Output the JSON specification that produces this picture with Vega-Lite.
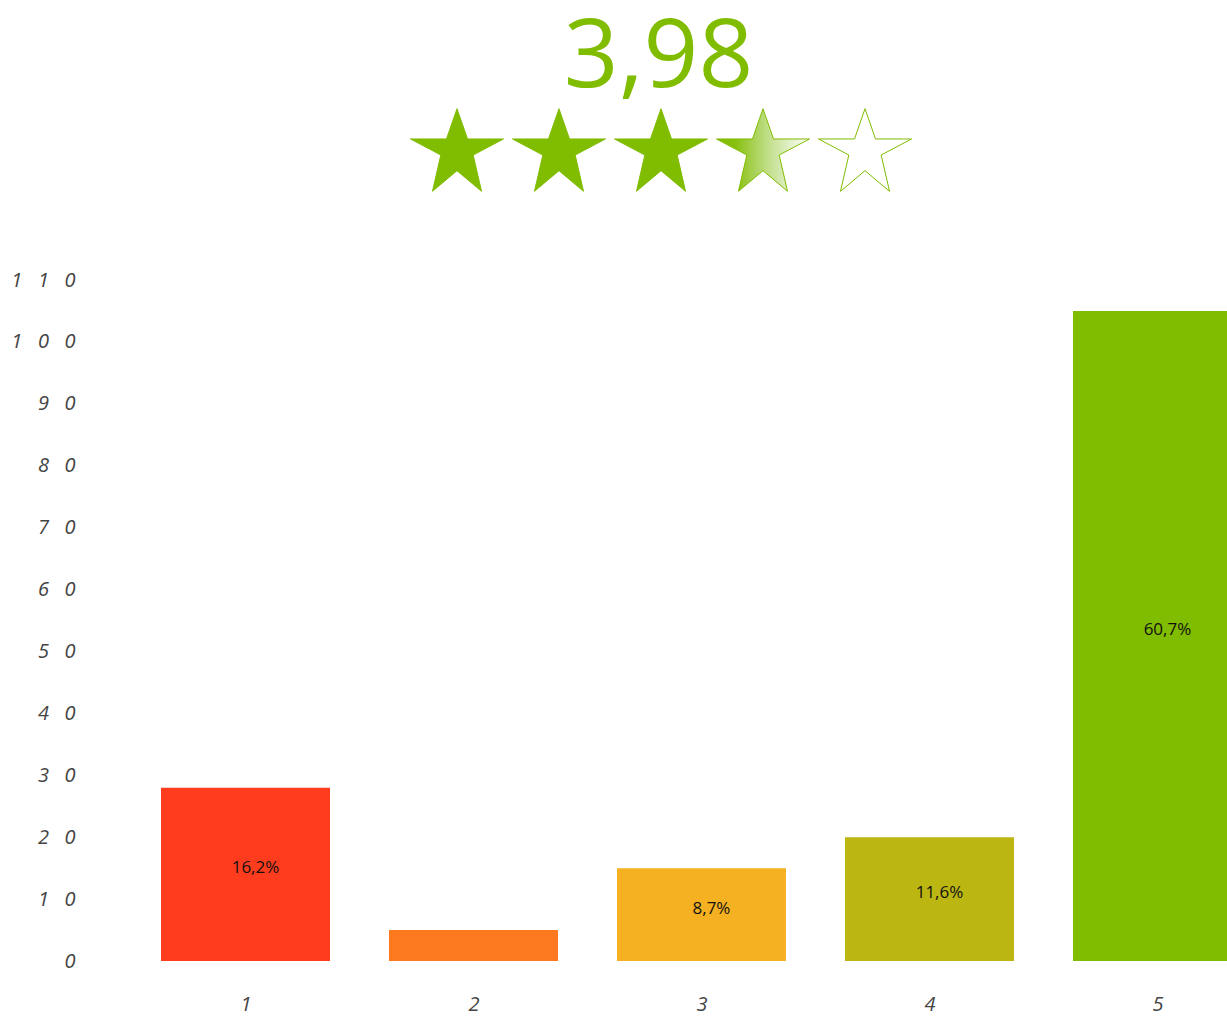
{
  "$schema": "https://vega.github.io/schema/vega-lite/v6.json",
  "autosize": "none",
  "width": 1137,
  "height": 681,
  "padding": {"left": 90, "top": 280, "right": 0, "bottom": 55},
  "background": "white",
  "config": {
    "view": {"stroke": null},
    "locale": {"number": {"decimal": ",", "thousands": ".", "grouping": [3], "currency": ["", " €"]}}
  },
  "title": {
    "text": "3,98",
    "font": "Open Sans",
    "fontSize": 96,
    "fontWeight": "normal",
    "color": "#80BC00",
    "anchor": "middle",
    "frame": "group",
    "baseline": "alphabetic",
    "offset": -76
  },
  "datasets": {
    "ratings": [
      {"rating": 1, "count": 28, "pct": 0.162},
      {"rating": 2, "count": 5, "pct": 0.029},
      {"rating": 3, "count": 15, "pct": 0.087},
      {"rating": 4, "count": 20, "pct": 0.116},
      {"rating": 5, "count": 105, "pct": 0.607}
    ],
    "stars": [
      {"star": 1, "state": "full", "row": "stars"},
      {"star": 2, "state": "full", "row": "stars"},
      {"star": 3, "state": "full", "row": "stars"},
      {"star": 4, "state": "partial", "row": "stars"},
      {"star": 5, "state": "empty", "row": "stars"}
    ]
  },
  "layer": [
    {
      "data": {"name": "ratings"},
      "mark": {"type": "bar", "width": 169, "clip": true},
      "encoding": {
        "x": {
          "field": "rating", "type": "quantitative",
          "scale": {"domain": [0.318, 5.305], "nice": false, "zero": false, "padding": 0},
          "axis": {
            "title": null, "values": [1, 2, 3, 4, 5], "grid": false, "domain": false, "ticks": false,
            "labelFont": "Open Sans", "labelFontStyle": "italic", "labelFontSize": 20, "labelColor": "#444444",
            "labelPadding": 33, "format": "d"
          }
        },
        "y": {
          "field": "count", "type": "quantitative",
          "scale": {"domain": [0, 110], "nice": false, "padding": 0},
          "axis": {
            "title": null, "values": [0, 10, 20, 30, 40, 50, 60, 70, 80, 90, 100, 110], "grid": false, "domain": false, "ticks": false,
            "labelFont": "Open Sans", "labelFontStyle": "italic", "labelFontSize": 20, "labelColor": "#444444",
            "labelPadding": 15,
            "labelExpr": "join(split(datum.label, ''), '\u00a0\u00a0\u00a0')"
          }
        },
        "color": {
          "field": "rating", "type": "ordinal",
          "scale": {"domain": [1, 2, 3, 4, 5], "range": ["#FF3C1E", "#FC7920", "#F5B122", "#BCB612", "#80BC00"]},
          "legend": null
        }
      }
    },
    {
      "data": {"name": "ratings"},
      "transform": [{"filter": "datum.pct >= 0.05"}],
      "mark": {"type": "text", "font": "Open Sans", "fontSize": 17, "color": "#111111", "baseline": "middle", "align": "center", "dx": 10, "dy": -6},
      "encoding": {
        "x": {"field": "rating", "type": "quantitative", "scale": {"domain": [0.318, 5.305], "nice": false, "zero": false, "padding": 0}, "axis": null},
        "y": {"field": "count", "type": "quantitative", "scale": {"domain": [0, 220], "nice": false, "padding": 0}, "axis": null},
        "text": {"field": "pct", "type": "quantitative", "format": ".1%"}
      }
    },
    {
      "data": {"name": "stars"},
      "encoding": {
        "x": {"field": "star", "type": "quantitative", "scale": {"domain": [-2.598, 8.549], "nice": false, "zero": false, "padding": 0}, "axis": null},
        "y": {"field": "row", "type": "nominal", "scale": {"type": "point", "range": [-130, -130]}, "axis": null}
      },
      "layer": [
        {
          "transform": [{"filter": "datum.state === 'full'"}],
          "mark": {"type": "point", "shape": "M0,-0.888L0.226,-0.237L1,-0.237L0.348,0.108L0.527,0.888L0,0.445L-0.527,0.888L-0.348,0.108L-1,-0.237L-0.226,-0.237Z", "size": 8649, "filled": true, "fill": "#80BC00", "stroke": "#80BC00", "strokeWidth": 1, "opacity": 1, "fillOpacity": 1}
        },
        {
          "transform": [{"filter": "datum.state === 'partial'"}],
          "mark": {"type": "point", "shape": "M0,-0.888L0.226,-0.237L1,-0.237L0.348,0.108L0.527,0.888L0,0.445L-0.527,0.888L-0.348,0.108L-1,-0.237L-0.226,-0.237Z", "size": 8649, "filled": true,
            "fill": {"gradient": "linear", "x1": 0, "y1": 0, "x2": 1, "y2": 0, "stops": [
              {"offset": 0, "color": "#80BC00"},
              {"offset": 0.2, "color": "#88C00F"},
              {"offset": 0.55, "color": "#C0DE88"},
              {"offset": 1, "color": "#FFFFFF"}
            ]},
            "stroke": "#80BC00", "strokeWidth": 1, "opacity": 1, "fillOpacity": 1}
        },
        {
          "transform": [{"filter": "datum.state === 'empty'"}],
          "mark": {"type": "point", "shape": "M0,-0.888L0.226,-0.237L1,-0.237L0.348,0.108L0.527,0.888L0,0.445L-0.527,0.888L-0.348,0.108L-1,-0.237L-0.226,-0.237Z", "size": 8649, "filled": true, "fill": "#FFFFFF", "stroke": "#80BC00", "strokeWidth": 1, "opacity": 1, "fillOpacity": 1}
        }
      ]
    }
  ],
  "resolve": {"scale": {"x": "independent", "y": "independent", "color": "independent"}}
}
